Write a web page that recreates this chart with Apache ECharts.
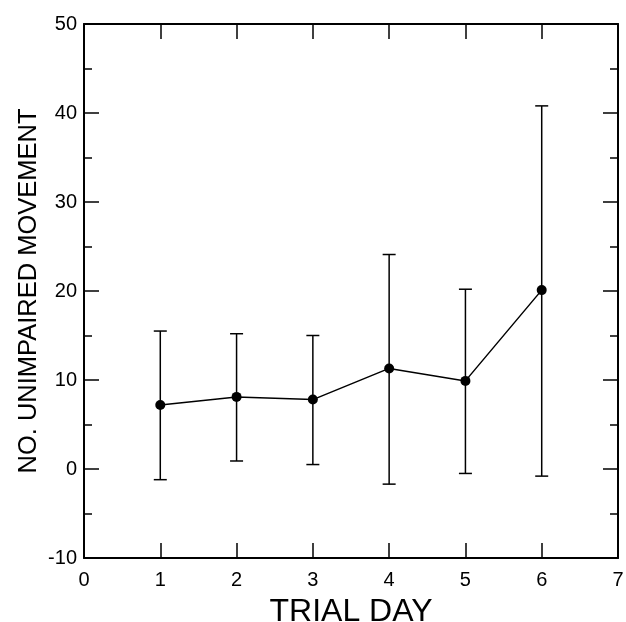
<!DOCTYPE html>
<html>
<head>
<meta charset="utf-8">
<script src="https://cdn.jsdelivr.net/npm/echarts@6/dist/echarts.min.js"></script>
<style>
  html, body { margin: 0; padding: 0; background: #fff; }
  #chart { width: 626px; height: 622px; }
</style>
</head>
<body>
<div id="chart"></div>
<script>
var days = [1, 2, 3, 4, 5, 6];
var means = [7.2, 8.1, 7.8, 11.3, 9.9, 20.1];
var upper = [15.5, 15.2, 15.0, 24.1, 20.2, 40.8];
var lower = [-1.2, 0.9, 0.5, -1.7, -0.5, -0.8];

var chart = echarts.init(document.getElementById('chart'));
var font = 'Liberation Sans, Arial, sans-serif';

var lineData = days.map(function (d, i) { return [d, means[i]]; });
var errData = days.map(function (d, i) { return [d, lower[i], upper[i]]; });

function axisBase(pos, showLabel) {
	return {
		type: 'value',
		position: pos,
		axisLine: { show: true, onZero: false, lineStyle: { color: '#000', width: 2 } },
		axisTick: { show: true, inside: true, length: 15, lineStyle: { color: '#000', width: 1.5 } },
		splitLine: { show: false },
		axisLabel: { show: showLabel, color: '#000', fontFamily: font, fontSize: 20 }
	};
}

var xBottom = axisBase('bottom', true);
xBottom.min = 0; xBottom.max = 7; xBottom.interval = 1;
xBottom.name = 'TRIAL DAY';
xBottom.nameLocation = 'middle';
xBottom.nameGap = 38;
xBottom.nameTextStyle = { color: '#000', fontFamily: font, fontSize: 32 };
xBottom.axisLabel.margin = 12;
var xTop = axisBase('top', false);
xTop.min = 0; xTop.max = 7; xTop.interval = 1;

var yLeft = axisBase('left', true);
yLeft.min = -10; yLeft.max = 50; yLeft.interval = 10;
yLeft.minorTick = { show: true, splitNumber: 2, length: 8, lineStyle: { color: '#000', width: 1.5 } };
yLeft.name = 'NO. UNIMPAIRED MOVEMENT';
yLeft.nameLocation = 'middle';
yLeft.nameGap = 42;
yLeft.nameMoveOverlap = false;
yLeft.nameTextStyle = { color: '#000', fontFamily: font, fontSize: 25.5 };
yLeft.axisLabel.margin = 7;
var yRight = axisBase('right', false);
yRight.min = -10; yRight.max = 50; yRight.interval = 10;
yRight.minorTick = { show: true, splitNumber: 2, length: 8, lineStyle: { color: '#000', width: 1.5 } };

var option = {
	animation: false,
	grid: { left: 84, right: 8, top: 24, bottom: 64, outerBoundsMode: 'none', containLabel: false },
	xAxis: [xBottom, xTop],
	yAxis: [yLeft, yRight],
	series: [
		{
			type: 'custom',
			xAxisIndex: 0,
			yAxisIndex: 0,
			data: errData,
			renderItem: function (params, api) {
				var x = api.value(0);
				var lo = api.coord([x, api.value(1)]);
				var hi = api.coord([x, api.value(2)]);
				var hw = 6.5;
				var style = { stroke: '#000', lineWidth: 1.5 };
				return {
					type: 'group',
					children: [
						{ type: 'line', shape: { x1: lo[0], y1: lo[1], x2: hi[0], y2: hi[1] }, style: style },
						{ type: 'line', shape: { x1: hi[0] - hw, y1: hi[1], x2: hi[0] + hw, y2: hi[1] }, style: style },
						{ type: 'line', shape: { x1: lo[0] - hw, y1: lo[1], x2: lo[0] + hw, y2: lo[1] }, style: style }
					]
				};
			},
			z: 1
		},
		{
			type: 'line',
			xAxisIndex: 0,
			yAxisIndex: 0,
			data: lineData,
			symbol: 'circle',
			symbolSize: 10,
			lineStyle: { color: '#000', width: 1.5 },
			itemStyle: { color: '#000' },
			z: 2
		}
	]
};
chart.setOption(option);
</script>
</body>
</html>
